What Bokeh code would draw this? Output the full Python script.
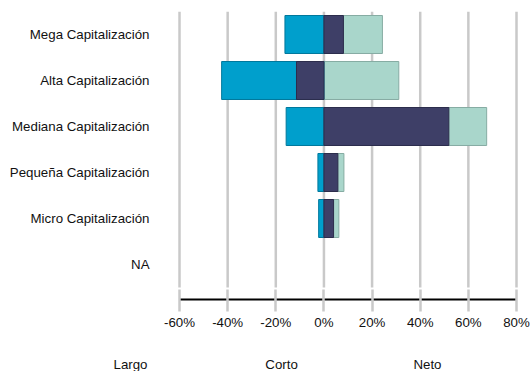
from bokeh.plotting import figure
from bokeh.models import (ColumnDataSource, Range1d, FixedTicker, PrintfTickFormatter, Label)
from bokeh.embed import file_html
from bokeh.resources import INLINE

categories = ["Mega Capitalización", "Alta Capitalización", "Mediana Capitalización",
              "Pequeña Capitalización", "Micro Capitalización", "NA"]
largo = [24.3, 31.1, 67.6, 8.3, 6.2, 0.0]
corto = [-16.2, -42.5, -15.7, -2.5, -2.2, 0.0]
neto = [8.1, -11.4, 51.9, 5.8, 4.0, 0.0]
x_ticks = [-60, -40, -20, 0, 20, 40, 60, 80]
legend_labels = ["Largo", "Corto", "Neto"]

FONT = "Liberation Sans"
TXT = "#111111"
FS = "13.3px"

XMIN, XMAX = -60, 80
ypos = list(range(len(categories)))
# only rows that carry a position get a bar
rows = [i for i in ypos if not (largo[i] == 0 and corto[i] == 0 and neto[i] == 0)]
src = ColumnDataSource(dict(
    y=[ypos[i] for i in rows],
    largo=[largo[i] for i in rows],
    corto=[corto[i] for i in rows],
    neto=[neto[i] for i in rows],
    zero=[0] * len(rows)))

# frame covers the whole canvas so that texts outside the axis span are
# not clipped; axes are drawn at fixed locations inside it
p = figure(width=531, height=371, output_backend="svg", toolbar_location=None,
           x_range=Range1d(-134.37, 86.23), y_range=Range1d(7.326, -0.5))
p.min_border_left = 0
p.min_border_right = 0
p.min_border_top = 11
p.min_border_bottom = 0
p.outline_line_color = None
p.xgrid.visible = False
p.ygrid.visible = False

# grid lines
p.segment(x0=x_ticks, x1=x_ticks, y0=[-0.5] * len(x_ticks), y1=[5.5] * len(x_ticks),
          line_color="#c9c9c9", line_width=2.5)

h = 0.826
p.hbar(y="y", left="zero", right="largo", height=h, source=src,
       fill_color="#A9D6CB", line_color="#86aca3", line_width=1)
p.hbar(y="y", left="corto", right="zero", height=h, source=src,
       fill_color="#009FCC", line_color="#00789c", line_width=1)
p.hbar(y="y", left="zero", right="neto", height=h, source=src,
       fill_color="#3E3F67", line_color="#2c2d4c", line_width=1)

# x axis
xa = p.xaxis[0]
xa.fixed_location = 5.761
xa.bounds = (XMIN, XMAX)
xa.ticker = FixedTicker(ticks=x_ticks)
xa.formatter = PrintfTickFormatter(format="%d%%")
xa.axis_line_color = "#000000"
xa.axis_line_width = 2
xa.major_tick_line_color = "#c9c9c9"
xa.major_tick_line_width = 2.5
xa.major_tick_in = 10
xa.major_tick_out = 12
xa.minor_tick_line_color = None
xa.major_label_standoff = 3
xa.major_label_text_font = FONT
xa.major_label_text_font_size = FS
xa.major_label_text_color = TXT

# y axis
ya = p.yaxis[0]
ya.fixed_location = XMIN
ya.ticker = FixedTicker(ticks=ypos)
ya.major_label_overrides = {i: c for i, c in enumerate(categories)}
ya.axis_line_color = None
ya.major_tick_line_color = None
ya.minor_tick_line_color = None
ya.major_tick_in = 0
ya.major_tick_out = 0
ya.major_label_standoff = 30
ya.major_label_text_font = FONT
ya.major_label_text_font_size = FS
ya.major_label_text_color = TXT

# legend texts (reference shows labels only, no swatches)
legend_x = [-80.36, -17.6, 43.0]
for lx, txt in zip(legend_x, legend_labels):
    p.add_layout(Label(x=lx, y=7.174, text=txt, text_align="center", text_baseline="middle",
                       text_font=FONT, text_font_size=FS, text_color=TXT))

open("out.html", "w").write(file_html(p, INLINE))
